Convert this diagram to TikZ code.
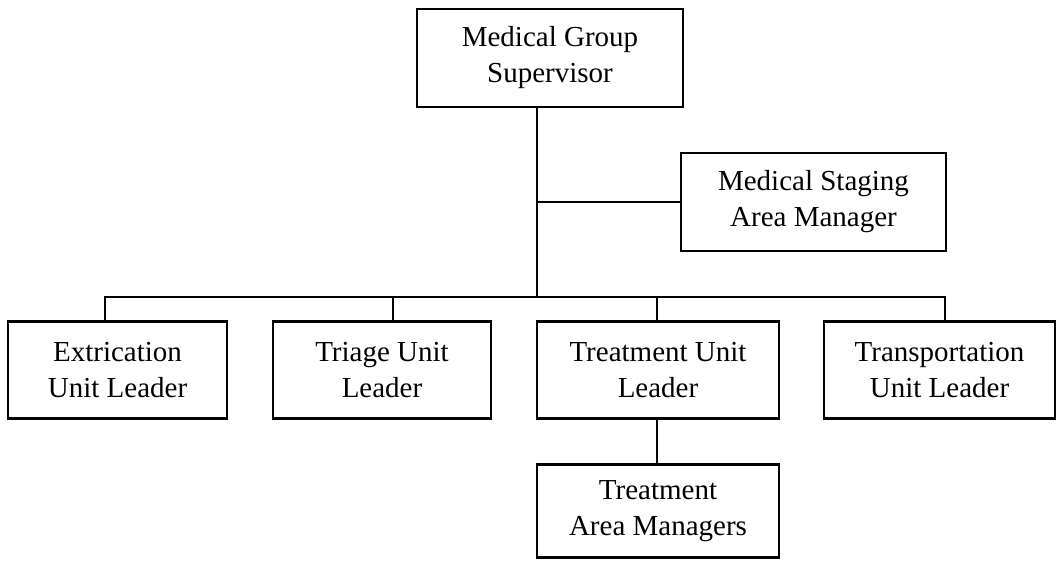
\documentclass[tikz,border=0pt]{standalone}
\usepackage{fontspec}
\setmainfont{Liberation Serif}
\begin{document}
\begin{tikzpicture}[x=1pt,y=-1pt,
  box/.style={draw,line width=2.7pt,align=center,inner sep=0pt,outer sep=0pt,
    font=\fontsize{29}{36}\selectfont},
  conn/.style={line width=2.7pt,line cap=rect}]
\useasboundingbox (0,0) rectangle (1057,560);
\node[box,minimum width=266pt,minimum height=98pt] (top) at (550,58) {Medical Group\\Supervisor};
\node[box,minimum width=265pt,minimum height=98pt] (staging) at (813.5,202) {Medical Staging\\Area Manager};
\node[box,minimum width=219pt,minimum height=97pt] (ext) at (117.5,370) {Extrication\\Unit Leader};
\node[box,minimum width=218pt,minimum height=97pt] (triage) at (382,370) {Triage Unit\\Leader};
\node[box,minimum width=242pt,minimum height=97pt] (treat) at (658,370) {Treatment Unit\\Leader};
\node[box,minimum width=231pt,minimum height=97pt] (trans) at (939.5,370) {Transportation\\Unit Leader};
\node[box,minimum width=242pt,minimum height=93pt] (area) at (658,511) {Treatment\\Area Managers};
\coordinate (trunk) at (537,297);
\coordinate (busL) at (105,297);
\coordinate (busR) at (945,297);
\coordinate (d2) at (393,297);
\coordinate (d3) at (657,297);
\draw[conn] (top.south -| trunk) -- (trunk);
\draw[conn] (staging.west -| trunk) -- (staging.west);
\draw[conn] (ext.north -| busL) -- (busL) -- (busR) -- (trans.north -| busR);
\draw[conn] (d2) -- (triage.north -| d2);
\draw[conn] (d3) -- (treat.north -| d3);
\draw[conn] (treat.south -| d3) -- (area.north -| d3);
\end{tikzpicture}
\end{document}
